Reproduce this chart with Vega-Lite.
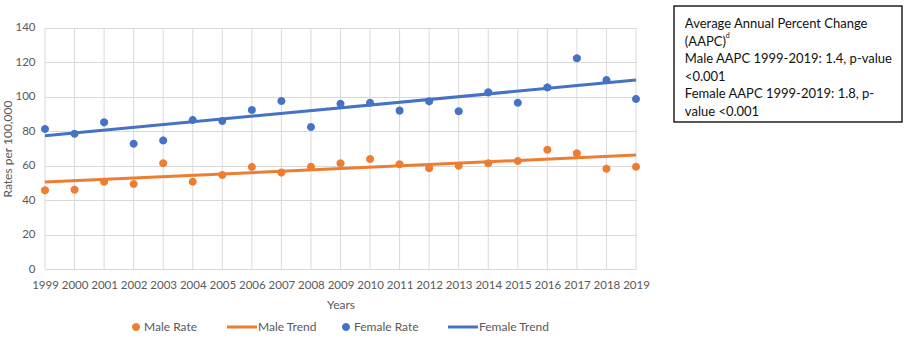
{
  "$schema": "https://vega.github.io/schema/vega-lite/v6.json",
  "background": "white",
  "padding": {"left": 1, "top": 5, "right": 0, "bottom": 0},
  "datasets": {
    "rates": [
      {"year": 1999, "value": 45.7, "series": "Male Rate"},
      {"year": 2000, "value": 46.1, "series": "Male Rate"},
      {"year": 2001, "value": 50.7, "series": "Male Rate"},
      {"year": 2002, "value": 49.4, "series": "Male Rate"},
      {"year": 2003, "value": 61.4, "series": "Male Rate"},
      {"year": 2004, "value": 50.7, "series": "Male Rate"},
      {"year": 2005, "value": 54.6, "series": "Male Rate"},
      {"year": 2006, "value": 59.3, "series": "Male Rate"},
      {"year": 2007, "value": 56.0, "series": "Male Rate"},
      {"year": 2008, "value": 59.4, "series": "Male Rate"},
      {"year": 2009, "value": 61.4, "series": "Male Rate"},
      {"year": 2010, "value": 63.9, "series": "Male Rate"},
      {"year": 2011, "value": 60.8, "series": "Male Rate"},
      {"year": 2012, "value": 58.5, "series": "Male Rate"},
      {"year": 2013, "value": 60.0, "series": "Male Rate"},
      {"year": 2014, "value": 61.4, "series": "Male Rate"},
      {"year": 2015, "value": 62.7, "series": "Male Rate"},
      {"year": 2016, "value": 69.3, "series": "Male Rate"},
      {"year": 2017, "value": 67.2, "series": "Male Rate"},
      {"year": 2018, "value": 58.3, "series": "Male Rate"},
      {"year": 2019, "value": 59.4, "series": "Male Rate"},
      {"year": 1999, "value": 81.3, "series": "Female Rate"},
      {"year": 2000, "value": 78.6, "series": "Female Rate"},
      {"year": 2001, "value": 85.2, "series": "Female Rate"},
      {"year": 2002, "value": 72.8, "series": "Female Rate"},
      {"year": 2003, "value": 74.7, "series": "Female Rate"},
      {"year": 2004, "value": 86.6, "series": "Female Rate"},
      {"year": 2005, "value": 86.0, "series": "Female Rate"},
      {"year": 2006, "value": 92.4, "series": "Female Rate"},
      {"year": 2007, "value": 97.6, "series": "Female Rate"},
      {"year": 2008, "value": 82.5, "series": "Female Rate"},
      {"year": 2009, "value": 96.0, "series": "Female Rate"},
      {"year": 2010, "value": 96.6, "series": "Female Rate"},
      {"year": 2011, "value": 92.0, "series": "Female Rate"},
      {"year": 2012, "value": 97.4, "series": "Female Rate"},
      {"year": 2013, "value": 91.6, "series": "Female Rate"},
      {"year": 2014, "value": 102.6, "series": "Female Rate"},
      {"year": 2015, "value": 96.6, "series": "Female Rate"},
      {"year": 2016, "value": 105.5, "series": "Female Rate"},
      {"year": 2017, "value": 122.4, "series": "Female Rate"},
      {"year": 2018, "value": 109.8, "series": "Female Rate"},
      {"year": 2019, "value": 98.8, "series": "Female Rate"}
    ],
    "trend": [
      {"year": 1999, "value": 50.5, "series": "Male Trend"},
      {"year": 2019, "value": 66.2, "series": "Male Trend"},
      {"year": 1999, "value": 77.4, "series": "Female Trend"},
      {"year": 2019, "value": 109.8, "series": "Female Trend"}
    ],
    "aapc": [
      {"line": 0, "text": "Average Annual Percent Change"},
      {"line": 1, "text": "(AAPC)"},
      {"line": 2, "text": "Male AAPC 1999-2019: 1.4, p-value"},
      {"line": 3, "text": "<0.001"},
      {"line": 4, "text": "Female AAPC 1999-2019: 1.8, p-"},
      {"line": 5, "text": "value <0.001"}
    ]
  },
  "spacing": 23,
  "hconcat": [
    {
      "width": 591,
      "height": 263,
      "layer": [
        {
          "data": {"name": "rates"},
          "transform": [{"filter": "datum.series == 'Male Rate'"}],
          "mark": {"type": "rule", "color": "#d9d9d9", "strokeWidth": 1},
          "encoding": {
            "x": {"field": "year", "type": "quantitative"},
            "y": {"datum": 0, "type": "quantitative"},
            "y2": {"datum": 140}
          }
        },
        {
          "data": {"name": "rates"},
          "mark": {"type": "point", "filled": true, "opacity": 1, "size": 900},
          "encoding": {
            "x": {
              "field": "year",
              "type": "quantitative",
              "scale": {"domain": [1999, 2019], "nice": false, "zero": false},
              "axis": {
                "title": "Years",
                "grid": false,
                "values": [1999, 2000, 2001, 2002, 2003, 2004, 2005, 2006, 2007, 2008, 2009, 2010, 2011, 2012, 2013, 2014, 2015, 2016, 2017, 2018, 2019],
                "tickCount": 21,
                "format": "d",
                "labelPadding": 10,
                "titlePadding": 9,
                "labelFlush": false,
                "labelOverlap": false
              }
            },
            "y": {
              "field": "value",
              "type": "quantitative",
              "scale": {"domain": [0, 152.78], "nice": false, "zero": true},
              "axis": {
                "title": "Rates per 100,000",
                "grid": true,
                "values": [0, 20, 40, 60, 80, 100, 120, 140],
                "tickCount": 8,
                "labelOverlap": false,
                "labelPadding": 10,
                "titlePadding": 0,
                "titleY": 142.5
              }
            },
            "color": {"field": "series", "type": "nominal"},
            "shape": {
              "field": "series",
              "type": "nominal",
              "scale": {
                "domain": ["Male Rate", "Male Trend", "Female Rate", "Female Trend"],
                "range": [
                  "M0.27,0L0.234,0.135L0.135,0.234L0,0.27L-0.135,0.234L-0.234,0.135L-0.27,0L-0.234,-0.135L-0.135,-0.234L0,-0.27L0.135,-0.234L0.234,-0.135Z",
                  "M-1,0L1,0",
                  "M0.27,0L0.234,0.135L0.135,0.234L0,0.27L-0.135,0.234L-0.234,0.135L-0.27,0L-0.234,-0.135L-0.135,-0.234L0,-0.27L0.135,-0.234L0.234,-0.135Z",
                  "M-1,0L1,0"
                ]
              },
              "legend": null
            }
          }
        },
        {
          "data": {"name": "trend"},
          "mark": {"type": "line", "strokeWidth": 3},
          "encoding": {
            "x": {"field": "year", "type": "quantitative"},
            "y": {"field": "value", "type": "quantitative"},
            "color": {
              "field": "series",
              "type": "nominal",
              "scale": {
                "domain": ["Male Rate", "Male Trend", "Female Rate", "Female Trend"],
                "range": ["#ED7D31", "#ED7D31", "#4472C4", "#4472C4"]
              },
              "legend": {
                "title": null,
                "orient": "none",
                "direction": "horizontal",
                "legendX": 85,
                "legendY": 315,
                "symbolSize": 900,
                "labelOffset": 2,
                "columnPadding": 23,
                "labelFontSize": 12,
                "labelColor": "#595959",
                "labelFont": "Lato",
                "encode": {
                  "symbols": {
                    "update": {
                      "size": {"value": 900},
                      "strokeWidth": {"signal": "datum.value == 'Male Trend' || datum.value == 'Female Trend' ? 3 : 0"}
                    }
                  },
                  "labels": {
                    "update": {
                      "dx": {"signal": "datum.value == 'Male Trend' || datum.value == 'Female Trend' ? 8 : 0"}
                    }
                  }
                }
              }
            }
          }
        }
      ]
    },
    {
      "width": 228,
      "height": 116,
      "view": {"stroke": "#222222", "strokeWidth": 1.5},
      "layer": [
        {
          "data": {"name": "aapc"},
          "mark": {"type": "text", "align": "left", "baseline": "middle", "font": "Lato", "fontSize": 13, "color": "#111111"},
          "encoding": {
            "x": {"datum": 0, "type": "quantitative", "scale": {"domain": [-0.05, 1], "nice": false, "zero": false}, "axis": null},
            "y": {"field": "line", "type": "quantitative", "scale": {"domain": [-1.02, 5.57], "reverse": true, "nice": false, "zero": false}, "axis": null},
            "text": {"field": "text"}
          }
        },
        {
          "data": {"values": [{"line": 1, "text": "d"}]},
          "mark": {"type": "text", "align": "left", "baseline": "middle", "font": "Lato", "fontSize": 7, "dx": 41, "dy": -6, "color": "#111111"},
          "encoding": {
            "x": {"datum": 0, "type": "quantitative"},
            "y": {"field": "line", "type": "quantitative"},
            "text": {"field": "text"}
          }
        }
      ]
    }
  ],
  "config": {
    "font": "Lato",
    "view": {"stroke": null},
    "axis": {
      "labelFont": "Lato",
      "titleFont": "Lato",
      "labelFontSize": 11.5,
      "titleFontSize": 12,
      "labelColor": "#595959",
      "titleColor": "#595959",
      "titleFontWeight": "normal",
      "labelOverlap": false,
      "domain": false,
      "ticks": false,
      "gridColor": "#d9d9d9",
      "gridWidth": 1
    }
  }
}
